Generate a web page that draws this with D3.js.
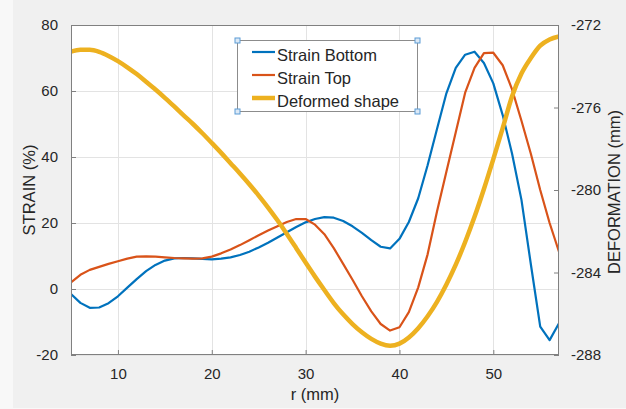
<!DOCTYPE html>
<html><head><meta charset="utf-8">
<script src="https://cdn.jsdelivr.net/npm/d3@7"></script>
<style>
body{margin:0;background:#f8f8f8;}
svg{display:block;font-family:"Liberation Sans",Arial,Helvetica,sans-serif;}
</style>
</head><body><svg id="c" width="626" height="409"></svg>
<script>
// ---- data ----
const rValues = [5,6,7,8,9,10,11,12,13,14,15,16,17,18,19,20,21,22,23,24,25,26,27,28,29,30,31,32,33,34,35,36,37,38,39,40,41,42,43,44,45,46,47,48,49,50,51,52,53,54,55,56,57];
const strainBottom = [-1.5,-4.2,-5.7,-5.6,-4.3,-2.2,0.4,3.0,5.4,7.3,8.6,9.3,9.4,9.3,9.1,9.0,9.2,9.6,10.3,11.3,12.6,14.0,15.6,17.2,18.8,20.2,21.2,21.8,21.6,20.6,19.0,17.0,14.8,12.8,12.3,15.2,20.3,27.5,37.5,48.5,59.3,67.0,71.0,71.9,68.5,62.3,52.7,41.0,27.0,7.5,-11.4,-15.5,-10.4];
const strainTop = [2.0,4.3,5.8,6.7,7.6,8.4,9.2,9.8,9.9,9.8,9.6,9.4,9.3,9.2,9.3,9.8,10.8,12.0,13.3,14.8,16.3,17.7,19.0,20.3,21.2,21.2,19.5,16.6,12.4,7.6,2.8,-2.2,-6.8,-10.6,-12.6,-11.6,-7.0,0.5,10.5,23.5,35.5,47.5,59.5,67.0,71.5,71.6,67.8,60.5,51.0,41.0,30.0,20.0,11.3];
const deformedShape = [-273.29,-273.2,-273.2,-273.3,-273.5,-273.75,-274.05,-274.38,-274.75,-275.13,-275.53,-275.95,-276.38,-276.8,-277.25,-277.72,-278.2,-278.7,-279.2,-279.72,-280.27,-280.85,-281.47,-282.13,-282.82,-283.52,-284.2,-284.85,-285.48,-286.03,-286.5,-286.9,-287.22,-287.45,-287.55,-287.45,-287.15,-286.7,-286.12,-285.42,-284.58,-283.62,-282.52,-281.3,-279.95,-278.5,-277.0,-275.45,-274.35,-273.6,-273.0,-272.7,-272.55];
const seriesNames = ["Strain Bottom","Strain Top","Deformed shape"];
const xTicks = [10,20,30,40,50];
const yLeftTicks = [-20,0,20,40,60,80];
const yRightTicks = [-288,-284,-280,-276,-272];
const xLabel = "r (mm)", yLeftLabel = "STRAIN (%)", yRightLabel = "DEFORMATION (mm)";

// ---- layout ----
const svg = d3.select("#c");
const L = 71, R = 559, T = 25, B = 355;
const x = d3.scaleLinear().domain([5,57]).range([L,R]);
const yL = d3.scaleLinear().domain([-20,80]).range([B,T]);
const yR = d3.scaleLinear().domain([-288,-272]).range([B,T]);
const colors = ["#0072BD","#D95319","#EDB120"];
const axisCol = "#808080", textCol = "#262626";
const fmt = d => String(d);

svg.append("rect").attr("x",13).attr("y",0).attr("width",613).attr("height",408).attr("fill","#f0f0f0");
svg.append("rect").attr("x",L).attr("y",T).attr("width",R-L).attr("height",B-T).attr("fill","#fff");

svg.append("defs").append("clipPath").attr("id","clip")
  .append("rect").attr("x",L).attr("y",T).attr("width",R-L).attr("height",B-T);

// grid
const g = svg.append("g").attr("stroke","#e3e3e3").attr("stroke-width",1);
xTicks.forEach(t=>g.append("line").attr("x1",Math.round(x(t))+0.5).attr("x2",Math.round(x(t))+0.5).attr("y1",T).attr("y2",B));
yLeftTicks.forEach(t=>g.append("line").attr("x1",L).attr("x2",R).attr("y1",Math.round(yL(t))+0.5).attr("y2",Math.round(yL(t))+0.5));

// lines
const plot = svg.append("g").attr("clip-path","url(#clip)");
const mk = (ys, scale) => d3.line().x((d,i)=>x(rValues[i])).y(d=>scale(d)).curve(d3.curveLinear)(ys);
plot.append("path").attr("d",mk(strainBottom,yL)).attr("fill","none").attr("stroke",colors[0]).attr("stroke-width",2.2).attr("stroke-linejoin","round");
plot.append("path").attr("d",mk(strainTop,yL)).attr("fill","none").attr("stroke",colors[1]).attr("stroke-width",2.2).attr("stroke-linejoin","round");
plot.append("path").attr("d",d3.line().x((d,i)=>x(rValues[i])).y(d=>yR(d)).curve(d3.curveMonotoneX)(deformedShape)).attr("fill","none").attr("stroke",colors[2]).attr("stroke-width",4.5).attr("stroke-linejoin","round");

// axes
const ax = (sel)=>sel.call(s=>s.select(".domain").remove()).call(s=>s.selectAll("line").attr("stroke",axisCol)).call(s=>s.selectAll("text").attr("fill",textCol).attr("font-size","15px").attr("font-family","'Liberation Sans',Arial,sans-serif"));
svg.append("g").attr("transform",`translate(0,${B})`).call(d3.axisBottom(x).tickValues(xTicks).tickFormat(fmt).tickSize(-5).tickPadding(13)).call(ax);
svg.append("g").attr("transform",`translate(${L},0)`).call(d3.axisLeft(yL).tickValues(yLeftTicks).tickFormat(fmt).tickSize(-5).tickPadding(13)).call(ax);
svg.append("g").attr("transform",`translate(${R},0)`).call(d3.axisRight(yR).tickValues(yRightTicks).tickFormat(fmt).tickSize(-5).tickPadding(12)).call(ax);
svg.append("rect").attr("x",L+0.5).attr("y",T+0.5).attr("width",R-L-1).attr("height",B-T-1).attr("fill","none").attr("stroke",axisCol).attr("stroke-width",1);

// axis labels
svg.append("text").attr("x",(L+R)/2).attr("y",400).attr("text-anchor","middle").attr("font-size","16.5px").attr("fill",textCol).text(xLabel);
svg.append("text").attr("transform",`translate(35,${(T+B)/2}) rotate(-90)`).attr("text-anchor","middle").attr("font-size","16.5px").attr("fill",textCol).text(yLeftLabel);
svg.append("text").attr("transform",`translate(620,${(T+B)/2+2}) rotate(-90)`).attr("text-anchor","middle").attr("font-size","16.5px").attr("fill",textCol).text(yRightLabel);

// legend
const lx0 = 237, ly0 = 40, lx1 = 417, ly1 = 111;
const lg = svg.append("g");
lg.append("rect").attr("x",lx0+0.5).attr("y",ly0+0.5).attr("width",lx1-lx0).attr("height",ly1-ly0).attr("fill","#fff").attr("stroke","#8c8c8c");
seriesNames.forEach((n,i)=>{
  const yy = 52 + i*23;
  lg.append("line").attr("x1",252).attr("x2",275).attr("y1",yy).attr("y2",yy).attr("stroke",colors[i]).attr("stroke-width",i===2?4.5:2.2);
  lg.append("text").attr("x",277).attr("y",yy+8.5).attr("font-size","16.5px").attr("fill",textCol).text(n);
});
[[lx0,ly0],[lx1,ly0],[lx0,ly1],[lx1,ly1]].forEach(([hx,hy])=>{
  lg.append("rect").attr("x",hx-2.5+0.5).attr("y",hy-2.5+0.5).attr("width",5).attr("height",5).attr("fill","#dce9f6").attr("stroke","#5b9bd5").attr("stroke-width",1);
});
</script>
</body></html>
